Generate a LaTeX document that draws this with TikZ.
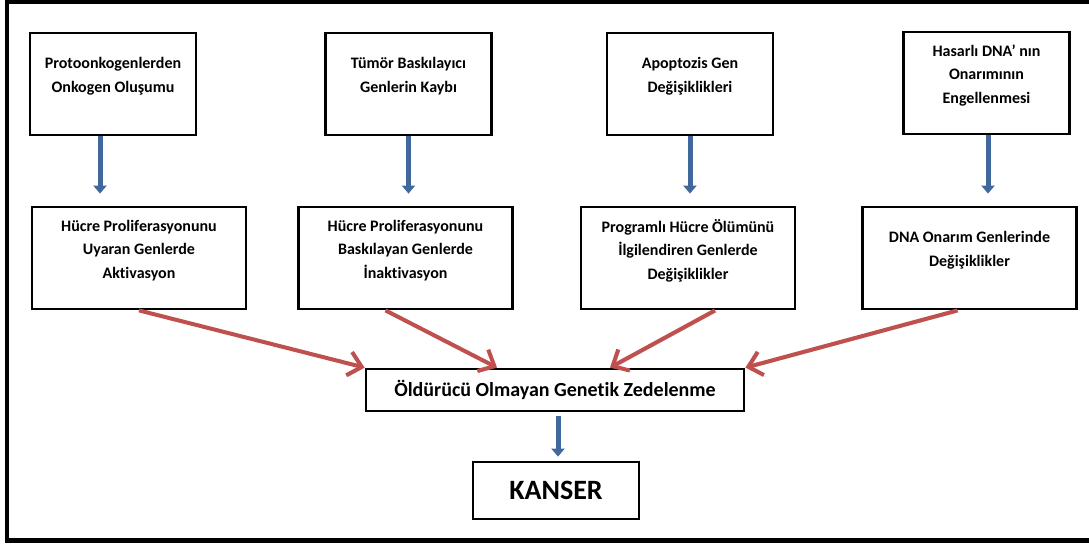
\documentclass[tikz,border=0pt]{standalone}
\usepackage{fontspec}
\setmainfont{Carlito}[Ligatures=NoCommon]
\usepackage{tikz}
\usetikzlibrary{positioning,arrows.meta,calc}
\definecolor{genred}{HTML}{C0504D}
\definecolor{genblue}{HTML}{41689C}
\newcommand{\lowpad}{\rule[-18pt]{0pt}{18pt}}

\begin{document}
\begin{tikzpicture}[x=1pt, y=-1pt, font=\bfseries,
  box/.style={draw=black, line width=2.8pt, fill=white, align=center, inner sep=4pt,
    font=\bfseries\fontsize{16}{23.5}\selectfont},
  topbox/.style={box, minimum width=166pt, minimum height=102pt},
  midbox/.style={box, minimum width=214pt, minimum height=102pt},
  blarr/.style={-{Triangle[length=8pt,width=13pt]}, draw=genblue, line width=5pt},
  rdarr/.style={-{Straight Barb[length=13pt,width=24pt]}, draw=genred, line width=4pt,
    preaction={draw=black, opacity=.25, transform canvas={xshift=1.5pt,yshift=-1.5pt}}}]
\useasboundingbox (0,0) rectangle (1089,545);
\draw[line width=4.2pt] (1089,2) -- (7,2) -- (7,540.5) -- (1089,540.5);

\node[topbox] (onko) at (113,84) {Protoonkogenlerden\\Onkogen Oluşumu\lowpad};
\node[topbox] (tumor) at (408.5,84) {Tümör Baskılayıcı\\Genlerin Kaybı\lowpad};
\node[topbox] (apop) at (690,84) {Apoptozis Gen\\Değişiklikleri\lowpad};
\node[topbox] (hasar) at (986.5,83) {Hasarlı DNA’ nın\\Onarımının\\Engellenmesi\lowpad};

\node[midbox] (aktiv) at (139,258) {Hücre Proliferasyonunu\\Uyaran Genlerde\\Aktivasyon\lowpad};
\node[midbox] (inakt) at (405.5,258) {Hücre Proliferasyonunu\\Baskılayan Genlerde\\İnaktivasyon\lowpad};
\node[midbox] (progr) at (688,258) {Programlı Hücre Ölümünü\\İlgilendiren Genlerde\\Değişiklikler\lowpad};
\node[midbox] (onarim) at (969.5,258) {DNA Onarım Genlerinde\\Değişiklikler\lowpad};

\node[box, minimum width=378pt, minimum height=42pt, font=\bfseries\fontsize{20}{24}\selectfont]
  (zedel) at (555,390) {Öldürücü Olmayan Genetik Zedelenme};
\node[box, minimum width=166pt, minimum height=57pt, font=\bfseries\fontsize{28}{32}\selectfont]
  (kanser) at (556,490.5) {KANSER};

\draw[blarr, shorten >=12pt] ([xshift=-13pt]onko.south) -- ([xshift=-13pt]onko.south |- aktiv.north);
\draw[blarr, shorten >=12pt] (tumor.south) -- (tumor.south |- inakt.north);
\draw[blarr, shorten >=12pt] (apop.south) -- (apop.south |- progr.north);
\draw[blarr, shorten >=12pt] ([xshift=1.5pt]hasar.south) -- ([xshift=1.5pt]hasar.south |- onarim.north);

\draw[rdarr] (aktiv.south) -- (zedel.north west);
\draw[rdarr] ([xshift=-20pt]inakt.south) -- ([xshift=-58pt]zedel.north);
\draw[rdarr] ([xshift=27pt]progr.south) -- ([xshift=55pt]zedel.north);
\draw[rdarr] ([xshift=-12pt]onarim.south) -- (zedel.north east);

\draw[blarr, shorten <=4pt, shorten >=4pt] ([xshift=3pt]zedel.south) -- ([xshift=3pt]zedel.south |- kanser.north);
\end{tikzpicture}
\end{document}
